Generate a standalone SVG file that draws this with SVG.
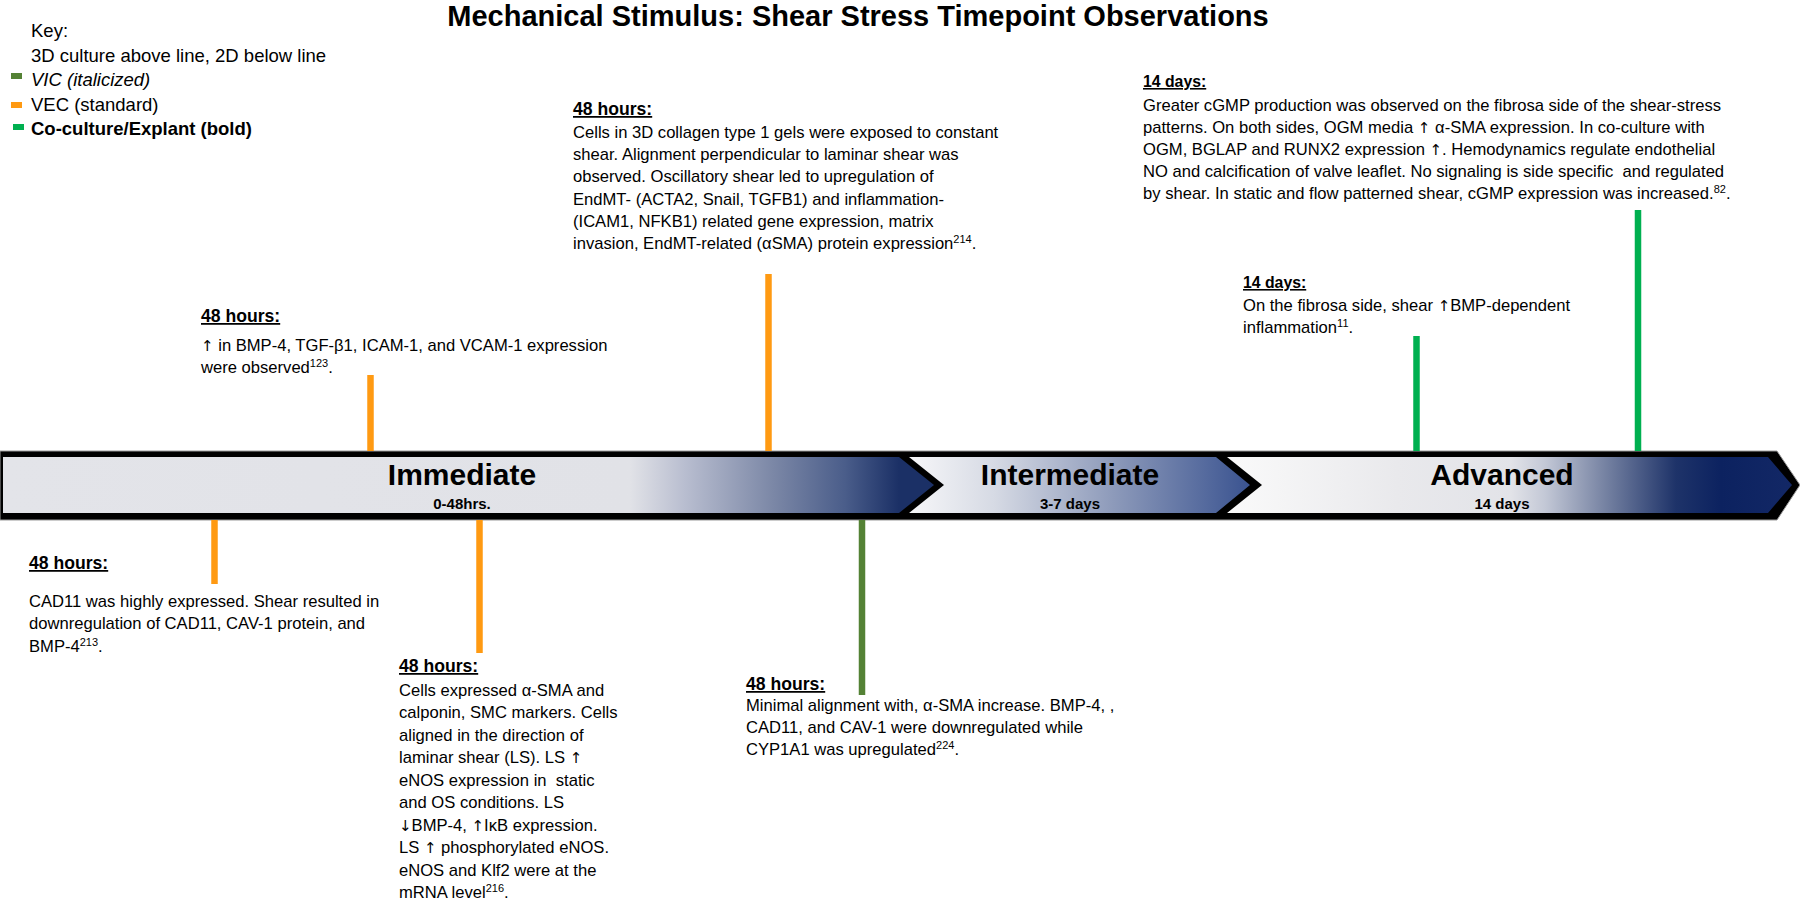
<svg xmlns="http://www.w3.org/2000/svg" width="1800" height="899" viewBox="0 0 1800 899">
<defs>
<style>
text{font-family:"Liberation Sans",Arial,"DejaVu Sans",sans-serif;fill:#000}
.t{font-size:16.6px}
.ar{font-family:"DejaVu Sans",sans-serif;font-size:15px}
.h{font-size:17.6px;font-weight:bold;text-decoration:underline}
.hd{font-size:15.8px;font-weight:bold;text-decoration:underline}
.k{font-size:18.5px}
.st{font-size:30px;font-weight:bold;text-anchor:middle}
.ss{font-size:15px;font-weight:bold;text-anchor:middle}
.bar{stroke-width:6.5;fill:none}
.or{stroke:#ff9a12}
.gr{stroke:#00b050}
.ol{stroke:#548235}
</style>
<linearGradient id="g1" gradientUnits="userSpaceOnUse" x1="3" y1="0" x2="899" y2="0">
<stop offset="0" stop-color="#e3e4e9"/>
<stop offset="0.70" stop-color="#e1e2e7"/>
<stop offset="0.76" stop-color="#b9bed0"/>
<stop offset="0.86" stop-color="#7b87a6"/>
<stop offset="0.94" stop-color="#4a5d8a"/>
<stop offset="1" stop-color="#1b3066"/>
</linearGradient>
<linearGradient id="g2" gradientUnits="userSpaceOnUse" x1="909" y1="0" x2="1250" y2="0">
<stop offset="0" stop-color="#f7f7f9"/>
<stop offset="0.25" stop-color="#d6dae4"/>
<stop offset="0.6" stop-color="#8d9aba"/>
<stop offset="1" stop-color="#3a5390"/>
</linearGradient>
<linearGradient id="g3" gradientUnits="userSpaceOnUse" x1="1227" y1="0" x2="1795" y2="0">
<stop offset="0" stop-color="#fafafa"/>
<stop offset="0.3" stop-color="#e9e9ec"/>
<stop offset="0.5" stop-color="#e2e3e8"/>
<stop offset="0.56" stop-color="#c3c8d6"/>
<stop offset="0.66" stop-color="#7a86a5"/>
<stop offset="0.79" stop-color="#1e3369"/>
<stop offset="0.87" stop-color="#0c2260"/>
<stop offset="1" stop-color="#132866"/>
</linearGradient>
</defs>
<rect width="1800" height="899" fill="#ffffff"/>

<g id="title">
<text x="858" y="26" text-anchor="middle" style="font-size:29px;font-weight:bold">Mechanical Stimulus: Shear Stress Timepoint Observations</text>
</g>

<g id="key">
<text class="k" x="31" y="37">Key:</text>
<text class="k" x="31" y="62">3D culture above line, 2D below line</text>
<rect x="11" y="73" width="11" height="6" fill="#548235"/>
<text class="k" x="31" y="86" font-style="italic">VIC (italicized)</text>
<rect x="11" y="102" width="11" height="6" fill="#ff9a12"/>
<text class="k" x="31" y="111">VEC (standard)</text>
<rect x="13" y="124" width="11" height="6" fill="#00b050"/>
<text class="k" x="31" y="135" font-weight="bold">Co-culture/Explant (bold)</text>
</g>

<g id="timeline">
<polygon points="0,451 1777,451 1800,485 1777,520 0,520" fill="#000" stroke="#9a9a9a" stroke-width="1"/>
<g id="stage-immediate">
<polygon points="3,457 899,457 934,485 899,513 3,513" fill="url(#g1)"/>
<text class="st" x="462" y="485">Immediate</text>
<text class="ss" x="462" y="509">0-48hrs.</text>
</g>
<g id="stage-intermediate">
<polygon points="909,457 1216,457 1250,485 1216,513 909,513 944,485" fill="url(#g2)"/>
<text class="st" x="1070" y="485">Intermediate</text>
<text class="ss" x="1070" y="509">3-7 days</text>
</g>
<g id="stage-advanced">
<polygon points="1227,457 1768,457 1792,485 1768,513 1227,513 1262,485" fill="url(#g3)"/>
<text class="st" x="1502" y="485">Advanced</text>
<text class="ss" x="1502" y="509">14 days</text>
</g>
</g>

<g id="connectors">
<line class="bar or" x1="370.5" y1="375" x2="370.5" y2="451"/>
<line class="bar or" x1="768.5" y1="274" x2="768.5" y2="451"/>
<line class="bar gr" x1="1416.5" y1="336" x2="1416.5" y2="451"/>
<line class="bar gr" x1="1638" y1="210" x2="1638" y2="451"/>
<line class="bar or" x1="214.5" y1="520" x2="214.5" y2="584"/>
<line class="bar or" x1="479.5" y1="520" x2="479.5" y2="653"/>
<line class="bar ol" x1="862" y1="520" x2="862" y2="695"/>
</g>

<g id="obs-48h-3d-a">
<text class="h" x="201" y="322">48 hours:</text>
<text class="t" x="201" y="351"><tspan class="ar">↑</tspan> in BMP-4, TGF-β1, ICAM-1, and VCAM-1 expression</text>
<text class="t" x="201" y="373">were observed<tspan dy="-6" font-size="11">123</tspan><tspan dy="6">.</tspan></text>
</g>

<g id="obs-48h-3d-b">
<text class="h" x="573" y="115">48 hours:</text>
<text class="t" x="573" y="138">Cells in 3D collagen type 1 gels were exposed to constant</text>
<text class="t" x="573" y="160">shear. Alignment perpendicular to laminar shear was</text>
<text class="t" x="573" y="182">observed. Oscillatory shear led to upregulation of</text>
<text class="t" x="573" y="205">EndMT- (ACTA2, Snail, TGFB1) and inflammation-</text>
<text class="t" x="573" y="227">(ICAM1, NFKB1) related gene expression, matrix</text>
<text class="t" x="573" y="249">invasion, EndMT-related (αSMA) protein expression<tspan dy="-6" font-size="11">214</tspan><tspan dy="6">.</tspan></text>
</g>

<g id="obs-14d-coculture-a">
<text class="hd" x="1143" y="87">14 days:</text>
<text class="t" x="1143" y="111">Greater cGMP production was observed on the fibrosa side of the shear-stress</text>
<text class="t" x="1143" y="133">patterns. On both sides, OGM media <tspan class="ar">↑</tspan> α-SMA expression. In co-culture with</text>
<text class="t" x="1143" y="155">OGM, BGLAP and RUNX2 expression <tspan class="ar">↑</tspan>. Hemodynamics regulate endothelial</text>
<text class="t" x="1143" y="177" style="white-space:pre">NO and calcification of valve leaflet. No signaling is side specific  and regulated</text>
<text class="t" x="1143" y="199">by shear. In static and flow patterned shear, cGMP expression was increased.<tspan dy="-6" font-size="11">82</tspan><tspan dy="6">.</tspan></text>
</g>

<g id="obs-14d-coculture-b">
<text class="hd" x="1243" y="288">14 days:</text>
<text class="t" x="1243" y="311">On the fibrosa side, shear <tspan class="ar">↑</tspan>BMP-dependent</text>
<text class="t" x="1243" y="333">inflammation<tspan dy="-6" font-size="11">11</tspan><tspan dy="6">.</tspan></text>
</g>

<g id="obs-48h-2d-a">
<text class="h" x="29" y="569">48 hours:</text>
<text class="t" x="29" y="607">CAD11 was highly expressed. Shear resulted in</text>
<text class="t" x="29" y="629">downregulation of CAD11, CAV-1 protein, and</text>
<text class="t" x="29" y="652">BMP-4<tspan dy="-6" font-size="11">213</tspan><tspan dy="6">.</tspan></text>
</g>

<g id="obs-48h-2d-b">
<text class="h" x="399" y="672">48 hours:</text>
<text class="t" x="399" y="696">Cells expressed α-SMA and</text>
<text class="t" x="399" y="718">calponin, SMC markers. Cells</text>
<text class="t" x="399" y="741">aligned in the direction of</text>
<text class="t" x="399" y="763">laminar shear (LS). LS <tspan class="ar">↑</tspan></text>
<text class="t" x="399" y="786" style="white-space:pre">eNOS expression in  static</text>
<text class="t" x="399" y="808">and OS conditions. LS</text>
<text class="t" x="399" y="831"><tspan class="ar">↓</tspan>BMP-4, <tspan class="ar">↑</tspan>IκB expression.</text>
<text class="t" x="399" y="853">LS <tspan class="ar">↑</tspan> phosphorylated eNOS.</text>
<text class="t" x="399" y="876">eNOS and Klf2 were at the</text>
<text class="t" x="399" y="898">mRNA level<tspan dy="-6" font-size="11">216</tspan><tspan dy="6">.</tspan></text>
</g>

<g id="obs-48h-2d-vic">
<text class="h" x="746" y="690">48 hours:</text>
<text class="t" x="746" y="711">Minimal alignment with, α-SMA increase. BMP-4, ,</text>
<text class="t" x="746" y="733">CAD11, and CAV-1 were downregulated while</text>
<text class="t" x="746" y="755">CYP1A1 was upregulated<tspan dy="-6" font-size="11">224</tspan><tspan dy="6">.</tspan></text>
</g>
</svg>
